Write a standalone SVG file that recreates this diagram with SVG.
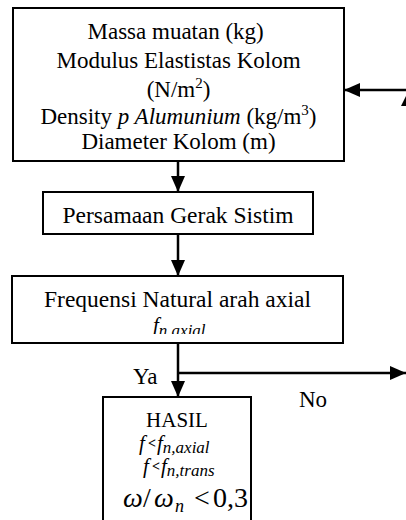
<svg xmlns="http://www.w3.org/2000/svg" width="406" height="520" viewBox="0 0 406 520" font-family="'Liberation Serif', 'DejaVu Serif', serif">
<style>
text{font-family:'Liberation Serif','DejaVu Serif',serif;fill:#000}
.box{fill:#fff;stroke:#000;stroke-width:2}
.c{text-anchor:middle}
.i{font-style:italic}
.ln{stroke:#000;stroke-width:2.5;fill:none}
</style>
<defs>
<marker id="ah" markerUnits="userSpaceOnUse" markerWidth="16" markerHeight="14" refX="16" refY="7" orient="auto">
<path d="M0,0 L16,7 L0,14 z" fill="#000"/>
</marker>
<clipPath id="cb3"><rect x="12" y="276" width="331" height="58"/></clipPath>
</defs>
<g id="connectors">
<line class="ln" x1="178" y1="161" x2="178" y2="192" marker-end="url(#ah)"/>
<line class="ln" x1="178" y1="234" x2="178" y2="276" marker-end="url(#ah)"/>
<line class="ln" x1="178" y1="343" x2="178" y2="397" marker-end="url(#ah)"/>
<line class="ln" x1="178" y1="373" x2="406" y2="373" marker-end="url(#ah)"/>
<line class="ln" x1="406" y1="90" x2="344" y2="90" marker-end="url(#ah)"/>
<polygon points="401,106 408,92 415,106" fill="#000"/>
<text x="133" y="384" font-size="23">Ya</text>
<text x="299" y="407" font-size="23">No</text>
</g>
<g id="node-input">
<rect class="box" x="13" y="8" width="331" height="153"/>
<text class="c" font-size="23">
<tspan x="178.5" y="39">Massa muatan (kg)</tspan>
<tspan x="178.5" y="68">Modulus Elastistas Kolom</tspan>
</text>
<text class="c" font-size="23" x="178.5" y="97">(N/m<tspan font-size="15" dy="-9">2</tspan><tspan dy="9">)</tspan></text>
<text class="c" font-size="23" x="178.5" y="124">Density <tspan class="i">p Alumunium</tspan> (kg/m<tspan font-size="15" dy="-9">3</tspan><tspan dy="9">)</tspan></text>
<text class="c" font-size="23" x="178.5" y="149">Diameter Kolom (m)</text>
</g>
<g id="node-persamaan">
<rect class="box" x="43" y="192" width="270" height="42"/>
<text class="c" font-size="23.5" x="178" y="223">Persamaan Gerak Sistim</text>
</g>
<g id="node-frequensi">
<rect class="box" x="12" y="276" width="331" height="67"/>
<text class="c" font-size="23.5" x="177.5" y="307">Frequensi Natural arah axial</text>
<g clip-path="url(#cb3)">
<text class="i" x="153" y="332" font-size="21">f<tspan font-size="17" dy="4">n,axial</tspan></text>
</g>
</g>
<g id="node-hasil">
<rect class="box" x="103" y="397" width="148" height="140"/>
<text class="c" font-size="21" x="177" y="427">HASIL</text>
<text x="139" y="450" font-size="21"><tspan class="i">f</tspan><tspan x="148" font-size="14" font-weight="bold" dy="-2">&lt;</tspan><tspan class="i" x="157" dy="2">f</tspan><tspan class="i" font-size="17" dy="3">n,axial</tspan></text>
<text x="143" y="473" font-size="21"><tspan class="i">f</tspan><tspan x="152" font-size="14" font-weight="bold" dy="-2">&lt;</tspan><tspan class="i" x="161" dy="2">f</tspan><tspan class="i" font-size="17" dy="3">n,trans</tspan></text>
<text y="507" font-size="28"><tspan class="i" x="123">ω</tspan><tspan x="143">/</tspan><tspan class="i" x="154">ω</tspan><tspan class="i" x="175" font-size="18" dy="5">n</tspan><tspan x="194" dy="-5">&lt;</tspan><tspan x="213">0,3</tspan></text>
</g>
</svg>
